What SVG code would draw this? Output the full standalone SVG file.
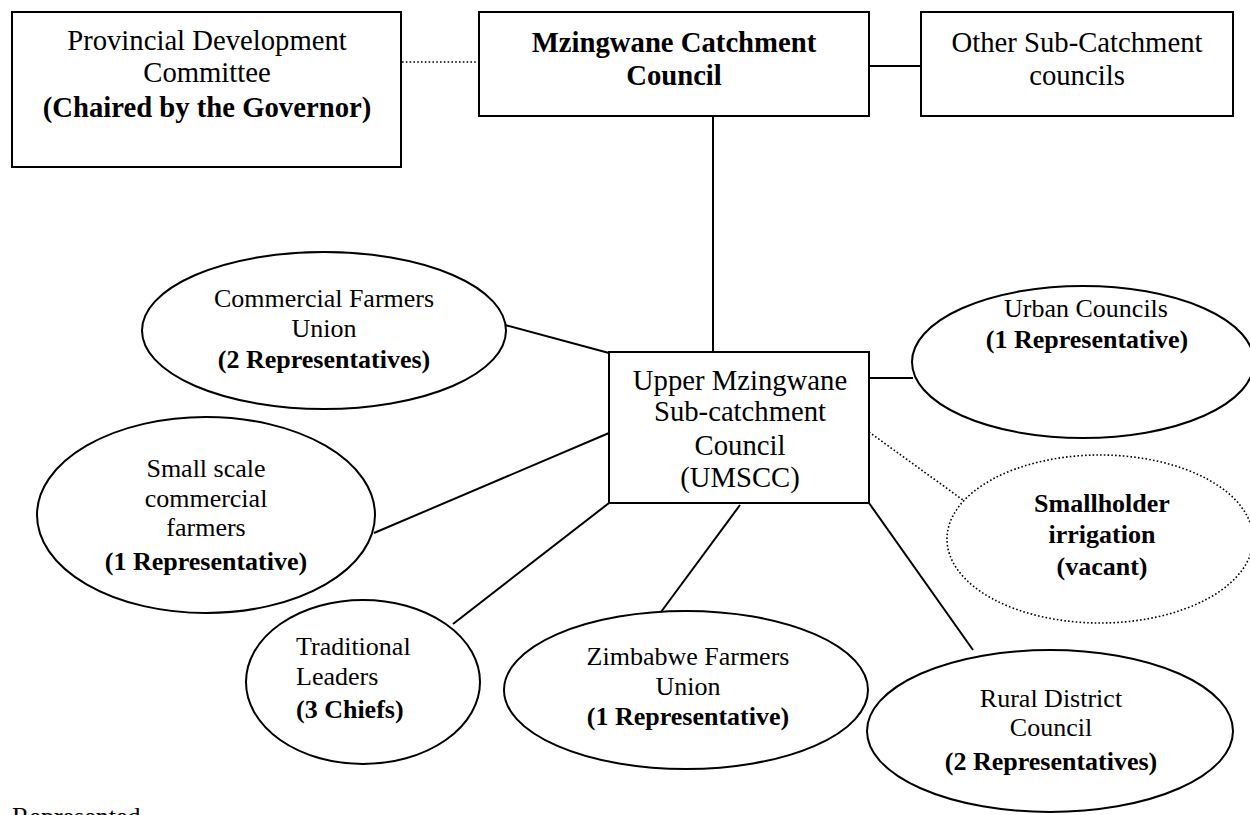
<svg xmlns="http://www.w3.org/2000/svg" width="1250" height="815" viewBox="0 0 1250 815">
<style>
text{font-family:"Liberation Serif","Times New Roman",serif;font-size:26px;fill:#000;text-anchor:middle}
.big{font-size:28.7px}
.b{font-weight:bold}
.l{text-anchor:start}
.s{fill:#fff;stroke:#000;stroke-width:2}
.d{fill:#fff;stroke:#000;stroke-width:1.6;stroke-dasharray:1.6 2.2}
.c{stroke:#000;stroke-width:2;fill:none}
.cd{stroke:#000;stroke-width:1.6;fill:none;stroke-dasharray:1.6 2.2}
</style>
<rect width="1250" height="815" fill="#fff"/>
<g id="connectors">
<line class="cd" x1="402" y1="62" x2="479" y2="62"/>
<line class="c" x1="869" y1="66" x2="921" y2="66"/>
<line class="c" x1="713" y1="116" x2="713" y2="352"/>
<line class="c" x1="505" y1="325" x2="609" y2="353"/>
<line class="c" x1="869" y1="378" x2="913" y2="378"/>
<line class="c" x1="374" y1="533" x2="609" y2="433"/>
<line class="c" x1="453" y1="624" x2="609" y2="503"/>
<line class="c" x1="740" y1="505" x2="661" y2="612"/>
<line class="c" x1="869" y1="503" x2="973" y2="650"/>
<line class="cd" x1="869" y1="432" x2="963" y2="500"/>
</g>
<g id="pdc">
<rect class="s" x="12" y="12" width="389" height="155"/>
<text class="big" x="207" y="50">Provincial Development</text>
<text class="big" x="207" y="82">Committee</text>
<text class="big b" x="207" y="117">(Chaired by the Governor)</text>
</g>
<g id="mcc">
<rect class="s" x="479" y="12" width="390" height="104"/>
<text class="big b" x="674" y="52">Mzingwane Catchment</text>
<text class="big b" x="674" y="85">Council</text>
</g>
<g id="other">
<rect class="s" x="921" y="12" width="312" height="104"/>
<text class="big" x="1077" y="52">Other Sub-Catchment</text>
<text class="big" x="1077" y="85">councils</text>
</g>
<g id="umscc">
<rect class="s" x="609" y="352" width="260" height="151"/>
<text class="big" x="740" y="390">Upper Mzingwane</text>
<text class="big" x="740" y="421">Sub-catchment</text>
<text class="big" x="740" y="455">Council</text>
<text class="big" x="740" y="487">(UMSCC)</text>
</g>
<g id="cfu">
<ellipse class="s" cx="324" cy="330.5" rx="182" ry="78.5"/>
<text x="324" y="307">Commercial Farmers</text>
<text x="324" y="337">Union</text>
<text class="b" x="324" y="368">(2 Representatives)</text>
</g>
<g id="ssc">
<ellipse class="s" cx="206" cy="515" rx="169" ry="98"/>
<text x="206" y="477">Small scale</text>
<text x="206" y="507">commercial</text>
<text x="206" y="536">farmers</text>
<text class="b" x="206" y="570">(1 Representative)</text>
</g>
<g id="trad">
<ellipse class="s" cx="363" cy="682" rx="117" ry="82"/>
<text class="l" x="296" y="655">Traditional</text>
<text class="l" x="296" y="685">Leaders</text>
<text class="l b" x="296" y="718">(3 Chiefs)</text>
</g>
<g id="zfu">
<ellipse class="s" cx="686" cy="690" rx="182" ry="79"/>
<text x="688" y="665">Zimbabwe Farmers</text>
<text x="688" y="695">Union</text>
<text class="b" x="688" y="725">(1 Representative)</text>
</g>
<g id="urban">
<ellipse class="s" cx="1083" cy="362" rx="171" ry="76"/>
<text x="1086" y="317">Urban Councils</text>
<text class="b" x="1087" y="348">(1 Representative)</text>
</g>
<g id="smallholder">
<ellipse class="d" cx="1100" cy="539" rx="153" ry="84"/>
<text class="b" x="1102" y="512">Smallholder</text>
<text class="b" x="1102" y="543">irrigation</text>
<text class="b" x="1102" y="575">(vacant)</text>
</g>
<g id="rdc">
<ellipse class="s" cx="1050" cy="731" rx="183" ry="81"/>
<text x="1051" y="707">Rural District</text>
<text x="1051" y="736">Council</text>
<text class="b" x="1051" y="770">(2 Representatives)</text>
</g>
<text class="l" x="12" y="825">Represented</text>
</svg>
